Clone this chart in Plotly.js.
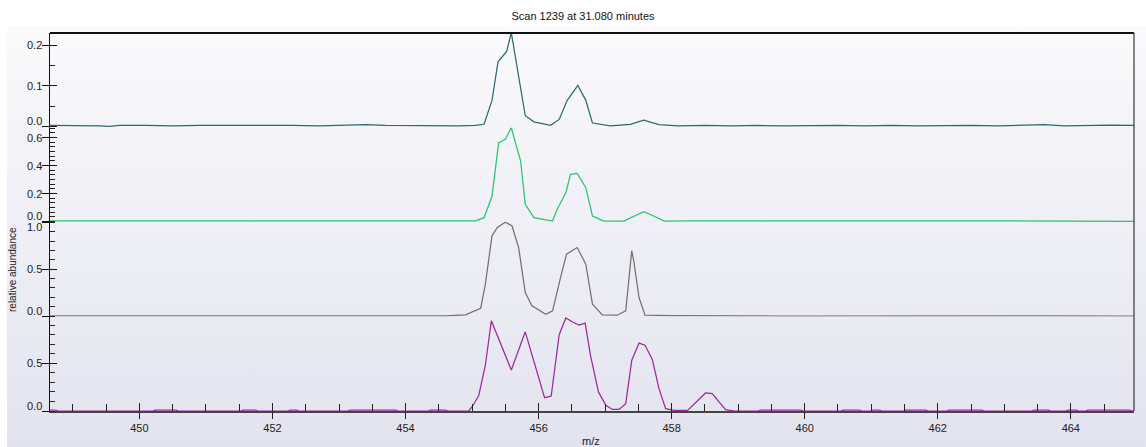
<!DOCTYPE html>
<html>
<head>
<meta charset="utf-8">
<script src="https://cdn.plot.ly/plotly-3.0.1.min.js"></script>
<style>
  html, body { margin: 0; padding: 0; background: #ffffff; overflow: hidden; }
  #wrap { position: relative; width: 1146px; height: 447px; background: #ffffff; }
  #bg { position: absolute; left: 7px; top: 27px; right: 0; bottom: 0;
        background: linear-gradient(to bottom, #fafafc 0%, #e3e3ef 100%); }
  #plot { position: absolute; left: 0; top: 0; width: 1146px; height: 447px; }
</style>
</head>
<body>
<div id="wrap"><div id="bg"></div><div id="plot"></div></div>
<script>
// ---------------- data ----------------
const chartTitle = "Scan 1239 at 31.080 minutes";
const xLabel = "m/z";
const yLabel = "relative abundance";

// panel 1 (teal)
const mz1 = [448.66, 449.0, 449.4, 449.55, 449.7, 450.1, 450.5, 450.9, 451.3, 451.6, 451.9, 452.3, 452.7, 453.1, 453.4, 453.7, 454.1, 454.4, 454.8, 455.05,
             455.18, 455.30, 455.39, 455.52, 455.59, 455.80, 455.93, 456.18, 456.31, 456.43, 456.59, 456.71, 456.81, 457.08, 457.38, 457.58, 457.81,
             458.1, 458.5, 458.9, 459.3, 459.7, 460.1, 460.5, 460.9, 461.3, 461.7, 462.1, 462.5, 462.9, 463.3, 463.6, 463.9, 464.3, 464.6, 464.95];
const ab1 = [0.002, 0.002, 0.001, 0.0, 0.002, 0.002, 0.001, 0.002, 0.002, 0.003, 0.002, 0.002, 0.001, 0.002, 0.004, 0.002, 0.001, 0.002, 0.001, 0.002,
             0.005, 0.064, 0.159, 0.185, 0.231, 0.026, 0.011, 0.0025, 0.017, 0.064, 0.101, 0.064, 0.008, 0.001, 0.005, 0.015, 0.004,
             0.001, 0.002, 0.001, 0.002, 0.001, 0.002, 0.002, 0.001, 0.002, 0.001, 0.002, 0.002, 0.001, 0.002, 0.004, 0.001, 0.002, 0.003, 0.002];

// panel 2 (green)
const mz2 = [448.66, 449.0, 449.4, 449.8, 450.0, 450.3, 450.6, 450.9, 451.3, 451.7, 452.1, 452.5, 452.9, 453.3, 453.7, 454.1, 454.5, 454.8, 455.05,
             455.18, 455.30, 455.40, 455.50, 455.59, 455.68, 455.73, 455.80, 455.93, 456.21, 456.28, 456.41, 456.48, 456.58, 456.71, 456.81, 456.98,
             457.28, 457.43, 457.58, 457.73, 457.89, 458.2, 458.6, 459.0, 459.4, 459.8, 460.2, 460.6, 461.0, 461.4, 461.8, 462.2, 462.6, 463.0,
             463.4, 463.8, 464.2, 464.6, 464.75, 464.95];
const ab2 = [0.004, 0.004, 0.005, 0.004, 0.0, 0.004, 0.005, 0.004, 0.004, 0.003, 0.004, 0.005, 0.004, 0.004, 0.003, 0.004, 0.004, 0.003, 0.004,
             0.027, 0.18, 0.564, 0.588, 0.671, 0.528, 0.432, 0.122, 0.027, 0.003, 0.087, 0.206, 0.337, 0.344, 0.242, 0.039, 0.003,
             0.003, 0.039, 0.07, 0.039, 0.003, 0.004, 0.003, 0.004, 0.004, 0.003, 0.004, 0.004, 0.003, 0.004, 0.004, 0.003, 0.004, 0.004,
             0.003, 0.004, 0.004, 0.004, 0.0, 0.0];

// panel 3 (gray)
const mz3 = [448.66, 449.0, 449.4, 449.8, 450.2, 450.6, 451.0, 451.4, 451.8, 452.2, 452.6, 453.0, 453.4, 453.8, 454.2, 454.6, 454.9,
             455.13, 455.20, 455.30, 455.38, 455.50, 455.60, 455.70, 455.80, 455.90, 456.11, 456.21, 456.33, 456.42, 456.58, 456.71, 456.81, 456.96,
             457.18, 457.31, 457.40, 457.43, 457.51, 457.60, 458.0, 458.4, 458.8, 459.2, 459.6, 460.0, 460.4, 460.8, 461.2, 461.6, 462.0,
             462.4, 462.8, 463.2, 463.6, 464.0, 464.4, 464.7, 464.95];
const ab3 = [0.004, 0.003, 0.002, 0.004, 0.003, 0.002, 0.004, 0.003, 0.004, 0.002, 0.003, 0.004, 0.002, 0.003, 0.004, 0.003, 0.014,
             0.084, 0.34, 0.855, 0.944, 1.0, 0.962, 0.73, 0.251, 0.11, 0.02, 0.056, 0.41, 0.66, 0.73, 0.553, 0.127, 0.014,
             0.01, 0.056, 0.695, 0.59, 0.198, 0.01, 0.005, 0.002, 0.003, 0.002, 0.001, 0.002, 0.003, 0.002, 0.002, 0.001, 0.003,
             0.002, 0.002, 0.003, 0.002, 0.002, 0.004, 0.004, 0.0];

// panel 4 (purple)
const mz4 = [448.66, 448.74, 448.78, 450.20, 450.24, 450.55, 450.59, 451.52, 451.56, 451.74, 451.78, 452.23, 452.27, 452.36, 452.40,
             453.13, 453.17, 453.85, 453.89, 454.34, 454.38, 454.60, 454.64, 454.95,
             455.00, 455.10, 455.20, 455.29, 455.59, 455.80, 456.09, 456.19, 456.31, 456.41, 456.51, 456.61, 456.70, 456.78, 456.90, 457.01,
             457.11, 457.21, 457.31, 457.40, 457.51, 457.60, 457.71, 457.81, 457.91, 458.04, 458.24, 458.39, 458.51, 458.61, 458.71, 458.81, 458.95,
             459.30, 459.34, 459.94, 459.98, 460.54, 460.58, 460.82, 460.86, 460.99, 461.03, 461.12, 461.16, 461.48, 461.52, 461.82, 461.86,
             462.13, 462.17, 462.66, 462.70, 463.41, 463.45, 463.66, 463.70, 463.92, 463.96, 464.08, 464.12, 464.22, 464.26, 464.88, 464.92, 464.95];
const ab4 = [0.01, 0.01, 0.0, 0.0, 0.01, 0.01, 0.0, 0.0, 0.01, 0.01, 0.0, 0.0, 0.01, 0.01, 0.0,
             0.0, 0.01, 0.01, 0.0, 0.0, 0.01, 0.01, 0.0, 0.0,
             0.045, 0.16, 0.48, 0.945, 0.43, 0.83, 0.14, 0.157, 0.80, 0.975, 0.933, 0.90, 0.922, 0.584, 0.2, 0.06,
             0.016, 0.016, 0.077, 0.53, 0.712, 0.69, 0.54, 0.234, 0.024, 0.007, 0.007, 0.112, 0.189, 0.182, 0.094, 0.014, 0.0,
             0.0, 0.01, 0.01, 0.0, 0.0, 0.01, 0.01, 0.0, 0.0, 0.01, 0.01, 0.0, 0.0, 0.01, 0.01, 0.0,
             0.0, 0.01, 0.01, 0.0, 0.0, 0.01, 0.01, 0.0, 0.0, 0.01, 0.01, 0.0, 0.0, 0.01, 0.01, 0.0, 0.0];

// tick labels
const xTickVals = [450, 452, 454, 456, 458, 460, 462, 464];
const p1Ticks = [0, 0.1, 0.2];
const p2Ticks = [0, 0.2, 0.4, 0.6];
const p3Ticks = [0, 0.5, 1.0];
const p4Ticks = [0, 0.5];

// ---------------- styling ----------------
const FONT = '"Liberation Sans", Arial, sans-serif';
const colors = ['#2b6b6d', '#2cc46f', '#727272', '#9c2a9c'];
const xRange = [448.656, 464.95];
const panels = [
  { mz: mz1, ab: ab1, ticks: p1Ticks, range: [-0.003, 0.2303], dtick: 0.1, minor: 0.05, domain: [0.75, 1.0] },
  { mz: mz2, ab: ab2, ticks: p2Ticks, range: [-0.004, 0.6725], dtick: 0.2, minor: 0.2 / 6, domain: [0.5, 0.75] },
  { mz: mz3, ab: ab3, ticks: p3Ticks, range: [-0.004, 1.0024], dtick: 0.5, minor: 0.1, domain: [0.25, 0.5] },
  { mz: mz4, ab: ab4, ticks: p4Ticks, range: [0, 0.9906], dtick: 0.5, minor: 0.1, domain: [0.0, 0.25] }
];

const traces = [];
const layout = {
  width: 1146, height: 447,
  margin: { l: 50, r: 12, t: 33, b: 36, pad: 0 },
  paper_bgcolor: 'rgba(0,0,0,0)',
  plot_bgcolor: 'rgba(0,0,0,0)',
  showlegend: false,
  font: { family: FONT, size: 11, color: '#222' },
  title: { text: chartTitle, x: 583 / 1146, xanchor: 'center', xref: 'container',
           y: 1 - 16.5 / 447, yanchor: 'middle', yref: 'container',
           font: { family: FONT, size: 11, color: '#111' } },
  xaxis: {
    range: xRange, anchor: 'y4', showgrid: false, zeroline: false,
    showline: true, linecolor: '#444', linewidth: 1.5,
    tickmode: 'array', tickvals: xTickVals, ticks: 'inside', ticklen: 8, tickwidth: 1, tickcolor: '#222',
    showticklabels: false,
    minor: { tickmode: 'linear', tick0: 0, dtick: 0.5, ticks: 'inside', ticklen: 7, tickwidth: 1, tickcolor: '#222', showgrid: false }
  },
  xaxis2: {
    range: xRange, overlaying: 'x', anchor: 'y4', side: 'bottom', showgrid: false, zeroline: false, showline: false,
    tickmode: 'array', tickvals: xTickVals, ticktext: xTickVals.map(String),
    ticks: 'outside', ticklen: 7, tickwidth: 1, tickcolor: '#222',
    tickfont: { family: FONT, size: 11, color: '#222' }
  },
  annotations: [],
  shapes: [
    { type: 'line', xref: 'paper', yref: 'paper', x0: 0, x1: 1, y0: 1, y1: 1, line: { color: '#111', width: 2 } },
    { type: 'line', xref: 'paper', yref: 'paper', x0: 1, x1: 1, y0: 0, y1: 1, line: { color: '#444', width: 1.3 } }
  ]
};

panels.forEach((p, i) => {
  const n = i + 1;
  const yName = n === 1 ? 'y' : 'y' + n;
  const yKey = n === 1 ? 'yaxis' : 'yaxis' + n;
  const ovName = 'y' + (n + 4);
  const ovKey = 'yaxis' + (n + 4);
  traces.push({
    type: 'scatter', mode: 'lines', x: p.mz, y: p.ab, xaxis: 'x', yaxis: yName,
    line: { color: colors[i], width: 1.25 }, hoverinfo: 'skip'
  });
  traces.push({ type: 'scatter', mode: 'lines', x: [xRange[0]], y: [null], xaxis: 'x', yaxis: ovName, hoverinfo: 'skip' });
  layout[yKey] = {
    domain: p.domain, range: p.range, anchor: 'x', showgrid: false, zeroline: false,
    showline: true, linecolor: '#111', linewidth: 1.5,
    tickmode: 'array', tickvals: p.ticks, ticks: 'outside', ticklen: 7, tickwidth: 1, tickcolor: '#111',
    showticklabels: false,
    minor: { tickmode: 'linear', tick0: 0, dtick: p.minor, ticks: 'inside', ticklen: 5, tickwidth: 1, tickcolor: '#222', showgrid: false }
  };
  layout[ovKey] = {
    overlaying: yName, range: p.range, anchor: 'x', side: 'left', showgrid: false, zeroline: false, showline: false,
    tickmode: 'array', tickvals: p.ticks, ticks: 'inside', ticklen: 7, tickwidth: 1, tickcolor: '#111',
    showticklabels: false
  };
  p.ticks.forEach(v => {
    let shift = 0;
    if (Math.abs(v - 0) < 1e-9) shift = 5;
    else if (p.range[1] - v < 0.02 * (p.range[1] - p.range[0])) shift = -5;
    layout.annotations.push({
      xref: 'paper', x: 0, xanchor: 'right', xshift: -6,
      yref: yName, y: v, yanchor: 'middle', yshift: shift,
      text: v.toFixed(1), showarrow: false,
      font: { family: FONT, size: 11, color: '#222' }
    });
  });
});
traces.push({ type: 'scatter', mode: 'lines', x: [xRange[0]], y: [null], xaxis: 'x2', yaxis: 'y4', hoverinfo: 'skip' });

layout.annotations.push({
  xref: 'paper', x: (591 - 50) / 1084, xanchor: 'center',
  yref: 'paper', y: 0, yshift: -30, yanchor: 'middle',
  text: xLabel, showarrow: false, font: { family: FONT, size: 11, color: '#222' }
});
layout.annotations.push({
  xref: 'paper', x: 0, xshift: -38, xanchor: 'center',
  yref: 'paper', y: (411 - 270) / 378, yanchor: 'middle',
  text: yLabel, textangle: -90, showarrow: false, font: { family: FONT, size: 10, color: '#222' }
});

Plotly.newPlot('plot', traces, layout, { displayModeBar: false, staticPlot: true });
</script>
</body>
</html>
